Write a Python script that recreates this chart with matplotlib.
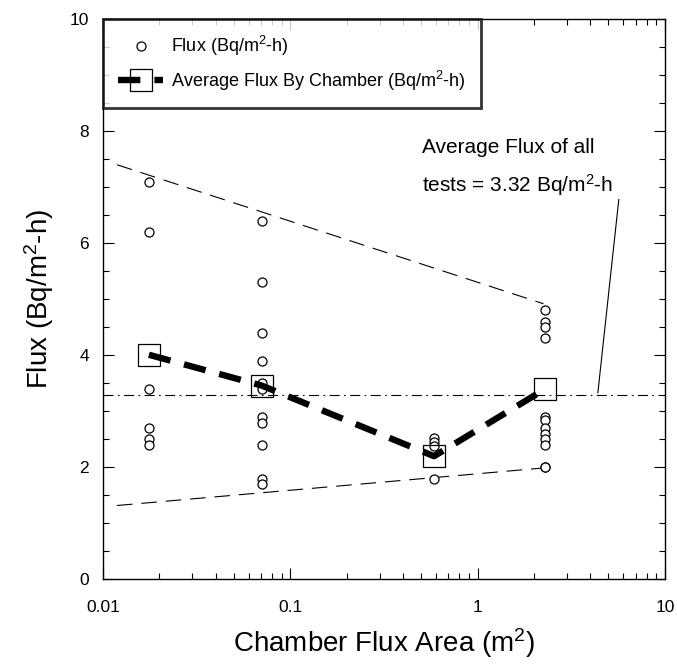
import matplotlib
matplotlib.use("Agg")
import matplotlib.pyplot as plt
from matplotlib.ticker import MultipleLocator, LogLocator, FixedLocator, NullFormatter
from matplotlib.lines import Line2D
import numpy as np

plt.rcParams['font.family'] = ['Liberation Sans', 'DejaVu Sans']
plt.rcParams['mathtext.fontset'] = 'custom'
plt.rcParams['mathtext.rm'] = 'Liberation Sans'
plt.rcParams['mathtext.it'] = 'Liberation Sans:italic'
plt.rcParams['mathtext.bf'] = 'Liberation Sans:bold'

# chamber areas (m^2)
areas = [0.0176, 0.0705, 0.586, 2.30]
# individual flux measurements per chamber
flux_g1 = [7.1, 6.2, 3.4, 2.7, 2.5, 2.4]
flux_g2 = [6.4, 5.3, 4.4, 3.9, 3.5, 3.4, 2.9, 2.8, 2.4, 1.8, 1.7]
flux_g3 = [2.52, 2.45, 2.38, 1.8]
flux_g4 = [4.8, 4.6, 4.5, 4.3, 2.9, 2.85, 2.7, 2.6, 2.5, 2.4, 2.0, 2.0]
# average flux by chamber
avg_flux = [4.01, 3.46, 2.20, 3.40]
# overall average
overall_avg = 3.3
# bounding dashed lines (x endpoints, y endpoints)
upper_x = [0.0119, 2.25]
upper_y = [7.4, 4.92]
lower_x = [0.0119, 2.25]
lower_y = [1.32, 1.99]

fig = plt.figure(figsize=(6.77, 6.68), dpi=100)
ax = fig.add_axes([0.152, 0.1325, 0.830, 0.839])

ax.set_xscale('log')
ax.set_xlim(0.01, 10)
ax.set_ylim(0, 10)

# thin dashed envelope lines
ax.plot(upper_x, upper_y, color='black', lw=0.8, dashes=(14, 8))
ax.plot(lower_x, lower_y, color='black', lw=0.8, dashes=(14, 8))

# overall average dash-dot
ax.axhline(overall_avg, color='black', lw=0.8, dashes=(9, 4, 1.5, 4))

# scatter
groups = [flux_g1, flux_g2, flux_g3, flux_g4]
for a, g in zip(areas, groups):
    ax.plot([a] * len(g), g, linestyle='none', marker='o', ms=6.5,
            mfc='white', mec='black', mew=0.9, zorder=3)

# average line and squares
ax.plot(areas, avg_flux, color='black', lw=4.6, dashes=(3.5, 2.2), zorder=4,
        solid_capstyle='butt', dash_capstyle='butt')
ax.plot(areas, avg_flux, linestyle='none', marker='s', ms=16, mfc='none',
        mec='black', mew=0.9, zorder=5)

# annotation
ax.text(0.508, 7.71, 'Average Flux of all', fontsize=15, va='center', ha='left')
ax.text(0.508, 7.03, 'tests = 3.32 Bq/m$^2$-h', fontsize=15, va='center', ha='left')
ax.plot([5.68, 4.39], [6.78, 3.33], color='black', lw=0.8)

# ticks
ax.yaxis.set_major_locator(MultipleLocator(2))
ax.yaxis.set_minor_locator(MultipleLocator(0.5))
ax.xaxis.set_major_locator(FixedLocator([0.01, 0.1, 1, 10]))
ax.xaxis.set_minor_locator(LogLocator(base=10, subs=np.arange(2, 10)))
ax.xaxis.set_minor_formatter(NullFormatter())
ax.set_xticklabels(['0.01', '0.1', '1', '10'])
ax.tick_params(which='both', direction='in', top=True, right=True, labelsize=12.5)
ax.tick_params(which='major', length=8, width=0.8)
ax.tick_params(which='minor', length=4, width=0.8)
ax.tick_params(axis='x', which='major', pad=15)
ax.tick_params(axis='y', which='major', pad=10)
for s in ax.spines.values():
    s.set_linewidth(1.0)

ax.set_xlabel('Chamber Flux Area (m$^2$)', fontsize=20, labelpad=8)
ax.set_ylabel('Flux (Bq/m$^2$-h)', fontsize=20, labelpad=10)

# legend
h1 = Line2D([], [], linestyle='none', marker='o', ms=6.5, mfc='white', mec='black', mew=0.9)
h2 = Line2D([], [], color='black', lw=4.6, dashes=(3.5, 2.2), marker='s', ms=16,
            mfc='none', mec='black', mew=0.9)
leg = ax.legend([h1, h2], ['Flux (Bq/m$^2$-h)', 'Average Flux By Chamber (Bq/m$^2$-h)'],
                loc='upper left', bbox_to_anchor=(0.0, 1.0), fontsize=13,
                frameon=True, fancybox=False, edgecolor='black', borderpad=0.85,
                handlelength=2.5, handletextpad=0.4, labelspacing=0.55,
                borderaxespad=0.0)
leg.get_frame().set_linewidth(2.0)

fig.savefig('out.png', dpi=100)
